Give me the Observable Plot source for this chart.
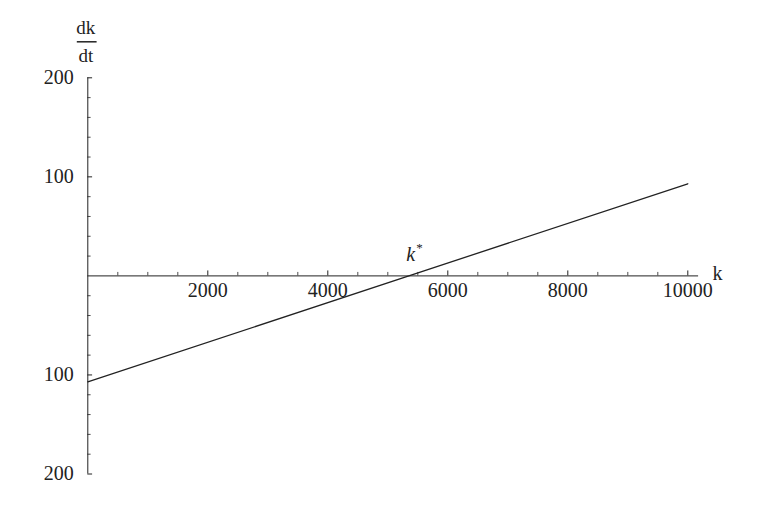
<!DOCTYPE html>
<html>
<head>
<meta charset="utf-8">
<script src="https://cdn.jsdelivr.net/npm/d3@7"></script>
<script src="https://cdn.jsdelivr.net/npm/@observablehq/plot@0.6"></script>
<style>
  html, body { margin: 0; padding: 0; background: #fff; }
  svg { display: block; }
</style>
</head>
<body>
<div id="chart"></div>
<script>
// Data
const kValues = [0, 10000];
const dkdtValues = [-107, 93];

const xMajorTicks = [2000, 4000, 6000, 8000, 10000];
const xMinorTicks = d3.range(500, 10001, 500).filter(v => v % 2000 !== 0);
const yMajorTicks = [-200, -100, 100, 200];
const yMinorTicks = d3.range(-200, 201, 20).filter(v => v % 100 !== 0);
const yTickLabels = ["200", "100", "100", "200"];

const xAxisEnd = 10180;
const kStar = {k: 5380, v: 22};

const lineData = kValues.map((k, i) => ({k, v: dkdtValues[i]}));
const yLabelData = yMajorTicks.map((v, i) => ({v, label: yTickLabels[i]}));

const font = "Liberation Serif, Times New Roman, serif";
const ink = "#222";

const chart = Plot.plot({
  width: 776,
  height: 509,
  marginLeft: 87.3,
  marginRight: 88.7,
  marginTop: 77.3,
  marginBottom: 35.5,
  x: {domain: [0, 10000], axis: null},
  y: {domain: [-200, 200], axis: null},
  style: {fontFamily: font, background: "#fff"},
  marks: [
    // x axis line
    Plot.ruleY([0], {x1: 0, x2: xAxisEnd, stroke: ink, strokeWidth: 1}),
    // y axis line
    Plot.ruleX([0], {y1: -200, y2: 200, stroke: ink, strokeWidth: 1}),
    // x ticks (pointing up)
    Plot.ruleX(xMajorTicks, {x: d => d, y1: 0, y2: 5, stroke: ink, strokeWidth: 1}),
    Plot.ruleX(xMinorTicks, {x: d => d, y1: 0, y2: 3.5, stroke: ink, strokeWidth: 0.8}),
    // y ticks (pointing right)
    Plot.ruleY(yMajorTicks, {y: d => d, x1: 0, x2: 80, stroke: ink, strokeWidth: 1}),
    Plot.ruleY(yMinorTicks, {y: d => d, x1: 0, x2: 55, stroke: ink, strokeWidth: 0.8}),
    // x tick labels
    Plot.text(xMajorTicks, {x: d => d, y: 0, text: d => String(d), dy: 15, fontSize: 20, fill: ink}),
    // y tick labels
    Plot.text(yLabelData, {x: 0, y: "v", text: "label", dx: -14, textAnchor: "end", fontSize: 20, fill: ink}),
    // axis labels
    Plot.text(["k"], {x: xAxisEnd, y: 0, text: d => d, dx: 19, dy: -2, fontSize: 20, fill: ink}),
    Plot.text(["dk"], {x: 0, y: 200, text: d => d, dy: -50, dx: -2, fontSize: 19, fill: ink}),
    Plot.text(["dt"], {x: 0, y: 200, text: d => d, dy: -22, dx: -2, fontSize: 19, fill: ink}),
    Plot.ruleY([200], {x1: -175, x2: 155, dy: -36, stroke: ink, strokeWidth: 1.5}),
    // the line
    Plot.line(lineData, {x: "k", y: "v", stroke: ink, strokeWidth: 1.3}),
    // k* label
    Plot.text(["k"], {x: kStar.k, y: kStar.v, text: d => d, fontSize: 20, fontStyle: "italic", fill: ink}),
    Plot.text(["*"], {x: kStar.k, y: kStar.v, text: d => d, dx: 9, dy: -6, fontSize: 13, fill: ink})
  ]
});

document.getElementById("chart").appendChild(chart);
</script>
</body>
</html>
